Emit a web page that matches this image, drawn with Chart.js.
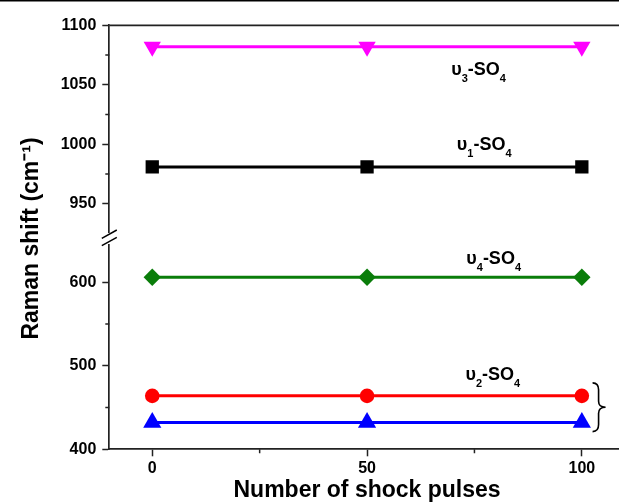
<!DOCTYPE html>
<html>
<head>
<meta charset="utf-8">
<script src="https://cdn.jsdelivr.net/npm/chart.js@4.4.1/dist/chart.umd.min.js"></script>
<style>
  html, body { margin: 0; padding: 0; background: #fff; overflow: hidden; }
  #wrap { width: 619px; height: 502px; overflow: hidden; position: relative; }
  canvas { display: block; }
</style>
</head>
<body>
<div id="wrap"><canvas id="c" width="640" height="502" style="width:640px;height:502px"></canvas></div>
<script>
// ---- data ----
const shockPulses = [0, 50, 100];
const nu3 = [1082, 1082, 1082];
const nu1 = [981, 981, 981];
const nu4 = [606, 606, 606];
const nu2a = [464, 464, 464];
const nu2b = [432, 432, 432];

const xTickValues = [0, 50, 100];
const xMinorTicks = [25, 75];
const upperTickValues = [950, 1000, 1050, 1100];
const upperMinorTicks = [975, 1025, 1075];
const lowerTickValues = [400, 500, 600];
const lowerMinorTicks = [450, 550];

const modeLabels = ['υ3-SO4', 'υ1-SO4', 'υ4-SO4', 'υ2-SO4'];

const FONT = "'Liberation Sans', Arial, sans-serif";
const AX = '#222';

function pts(ys) { return shockPulses.map((x, i) => ({ x: x, y: ys[i] })); }

const datasets = [
  { label: 'υ3-SO4', data: pts(nu3), yAxisID: 'yUp', borderColor: '#ff00ff', backgroundColor: '#ff00ff',
    pointStyle: 'triangle', pointRotation: 180, pointRadius: 10 },
  { label: 'υ1-SO4', data: pts(nu1), yAxisID: 'yUp', borderColor: '#000000', backgroundColor: '#000000',
    pointStyle: 'rect', pointRadius: 9.4 },
  { label: 'υ4-SO4', data: pts(nu4), yAxisID: 'yLow', borderColor: '#0a7d0a', backgroundColor: '#0a7d0a',
    pointStyle: 'rectRot', pointRadius: 8.7 },
  { label: 'υ2-SO4 a', data: pts(nu2a), yAxisID: 'yLow', borderColor: '#ff0000', backgroundColor: '#ff0000',
    pointStyle: 'circle', pointRadius: 7.3 },
  { label: 'υ2-SO4 b', data: pts(nu2b), yAxisID: 'yLow', borderColor: '#0000ff', backgroundColor: '#0000ff',
    pointStyle: 'triangle', pointRadius: 10.5 }
].map(d => Object.assign({
  xAxisID: 'x', borderWidth: 3, tension: 0, pointBorderWidth: 0,
  pointBackgroundColor: d.backgroundColor, pointHoverRadius: d.pointRadius, fill: false
}, d));

// label anchors: [dataset index, x value, pixel offset from line to baseline]
const labelAnchors = [[0, 69.6, 28], [1, 70.9, -17.3], [2, 73.1, -13.7], [3, 72.9, -16]];

function drawModeLabel(ctx, text, x, y) {
  ctx.textBaseline = 'alphabetic';
  ctx.textAlign = 'left';
  ctx.fillStyle = '#000';
  let cx = x;
  for (const ch of text) {
    if (/[0-9]/.test(ch)) {
      ctx.font = 'bold 11px ' + FONT;
      ctx.fillText(ch, cx, y + 7);
      cx += ctx.measureText(ch).width;
    } else {
      ctx.font = 'bold 18px ' + FONT;
      ctx.fillText(ch, cx, y);
      cx += ctx.measureText(ch).width;
    }
  }
}

const decor = {
  id: 'decor',
  beforeDraw(chart) {
    const ctx = chart.ctx;
    ctx.save();
    ctx.fillStyle = '#fff';
    ctx.fillRect(0, 0, chart.width, chart.height);
    ctx.restore();
  },
  afterDraw(chart) {
    const { ctx, chartArea: a, scales } = chart;
    const yU = scales.yUp, yL = scales.yLow, yG = scales.yGap, xs = scales.x;
    ctx.save();
    // frame line at very top
    ctx.fillStyle = '#000';
    ctx.fillRect(0, 0, chart.width, 1.5);
    // top spine
    ctx.strokeStyle = AX;
    ctx.lineWidth = 1.7;
    ctx.beginPath();
    ctx.moveTo(a.left, a.top);
    ctx.lineTo(a.right, a.top);
    ctx.stroke();
    // minor ticks
    ctx.lineWidth = 1.5;
    ctx.beginPath();
    for (const v of upperMinorTicks) { const p = yU.getPixelForValue(v); ctx.moveTo(a.left - 4, p); ctx.lineTo(a.left, p); }
    for (const v of lowerMinorTicks) { const p = yL.getPixelForValue(v); ctx.moveTo(a.left - 4, p); ctx.lineTo(a.left, p); }
    for (const v of xMinorTicks) { const p = xs.getPixelForValue(v); ctx.moveTo(p, a.bottom); ctx.lineTo(p, a.bottom + 4); }
    ctx.stroke();
    // axis break slashes
    ctx.strokeStyle = '#000';
    ctx.lineWidth = 1.5;
    const gt = yG.top;
    ctx.beginPath();
    ctx.moveTo(a.left - 7.5, gt + 6.3); ctx.lineTo(a.left + 7.5, gt - 2);
    ctx.moveTo(a.left - 7.5, gt + 13.7); ctx.lineTo(a.left + 7.5, gt + 5.3);
    ctx.stroke();
    // brace grouping the two lowest series
    const bx = xs.getPixelForValue(102.5);
    const bt = yL.getPixelForValue(nu2a[2]) - 13;
    const bb = yL.getPixelForValue(nu2b[2]) + 9;
    const bm = (bt + bb) / 2;
    ctx.lineWidth = 1.6;
    ctx.beginPath();
    ctx.moveTo(bx, bt);
    ctx.quadraticCurveTo(bx + 6, bt, bx + 6, bt + 7);
    ctx.lineTo(bx + 6, bm - 6);
    ctx.quadraticCurveTo(bx + 6, bm, bx + 13, bm);
    ctx.quadraticCurveTo(bx + 6, bm, bx + 6, bm + 6);
    ctx.lineTo(bx + 6, bb - 7);
    ctx.quadraticCurveTo(bx + 6, bb, bx, bb);
    ctx.stroke();
    // mode labels
    labelAnchors.forEach((an, i) => {
      const ds = datasets[an[0]];
      const sc = scales[ds.yAxisID];
      const py = sc.getPixelForValue(ds.data[0].y) + an[2];
      const px = xs.getPixelForValue(an[1]);
      drawModeLabel(ctx, modeLabels[i], px, py);
    });
    ctx.restore();
  }
};

const tickFont = { family: FONT, size: 16, weight: 'bold' };
const plain = v => String(v);

new Chart(document.getElementById('c'), {
  type: 'line',
  data: { datasets: datasets },
  plugins: [decor],
  options: {
    responsive: false,
    devicePixelRatio: 1,
    animation: false,
    layout: { padding: { left: 0, right: 15.2, top: 25.3, bottom: 0 } },
    plugins: { legend: { display: false }, tooltip: { enabled: false } },
    scales: {
      x: {
        type: 'linear', position: 'bottom', min: -10, max: 110,
        afterBuildTicks: s => { s.ticks = xTickValues.map(v => ({ value: v })); },
        afterFit: s => { s.height = 52.7; },
        ticks: { font: tickFont, color: '#000', padding: 3, maxRotation: 0, callback: plain },
        grid: { drawOnChartArea: false, tickLength: 7, tickWidth: 1.5, tickColor: AX, color: AX },
        border: { display: true, color: AX, width: 1.7 },
        title: { display: true, text: 'Number of shock pulses', color: '#000',
                 font: { family: FONT, size: 23, weight: 'bold', lineHeight: 1 }, padding: { top: 0, bottom: 0 } }
      },
      yLow: {
        type: 'linear', position: 'left', stack: 'y', stackWeight: 204.3, min: 400, max: 644.7,
        afterBuildTicks: s => { s.ticks = lowerTickValues.map(v => ({ value: v })); },
        afterFit: s => { s.width = 109.3; },
        ticks: { font: tickFont, color: '#000', padding: 6, callback: plain },
        grid: { drawOnChartArea: false, tickLength: 7, tickWidth: 1.5, tickColor: AX, color: AX },
        border: { display: true, color: AX, width: 1.7 }
      },
      yGap: {
        type: 'linear', position: 'left', stack: 'y', stackWeight: 13, min: 0, max: 1,
        afterFit: s => { s.width = 109.3; },
        ticks: { display: false },
        grid: { display: false, drawTicks: false },
        border: { display: false },
        title: { display: true, text: 'Raman shift (cm⁻¹)', color: '#000',
                 font: { family: FONT, size: 23, weight: 'bold', lineHeight: 1.2 }, padding: { top: 18, bottom: 0 } }
      },
      yUp: {
        type: 'linear', position: 'left', stack: 'y', stackWeight: 206.7, min: 926.3, max: 1100,
        afterBuildTicks: s => { s.ticks = upperTickValues.map(v => ({ value: v })); },
        afterFit: s => { s.width = 109.3; },
        ticks: { font: tickFont, color: '#000', padding: 6, callback: plain },
        grid: { drawOnChartArea: false, tickLength: 7, tickWidth: 1.5, tickColor: AX, color: AX },
        border: { display: true, color: AX, width: 1.7 }
      }
    }
  }
});
</script>
</body>
</html>
